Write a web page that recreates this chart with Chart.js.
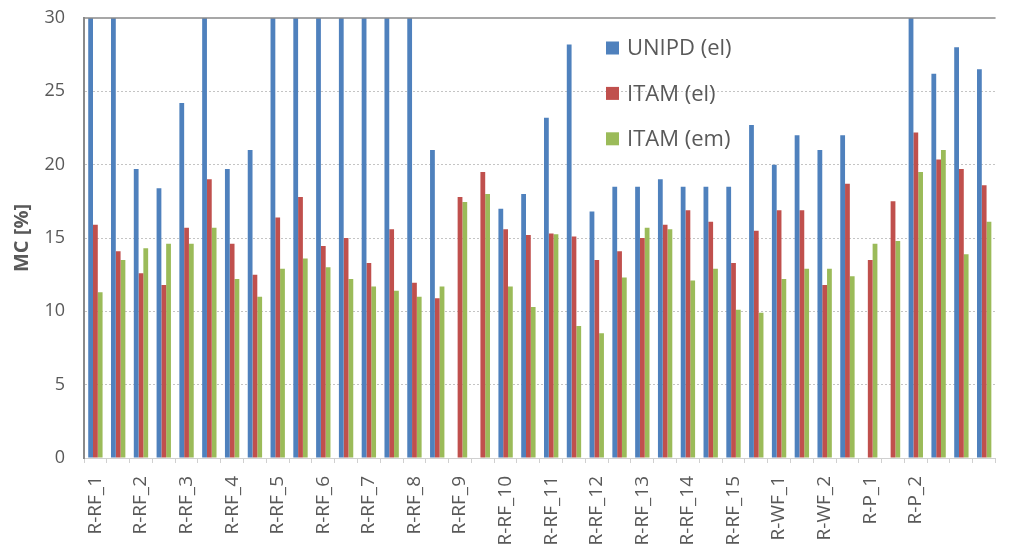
<!DOCTYPE html>
<html>
<head>
<meta charset="utf-8">
<script src="https://cdn.jsdelivr.net/npm/chart.js@4/dist/chart.umd.min.js"></script>
<style>
  html, body { margin: 0; padding: 0; overflow: hidden; background: #ffffff; }
  #wrap { width: 1020px; height: 550px; }
</style>
</head>
<body>
<div id="wrap"><canvas id="c" width="1020" height="550" style="width:1020px;height:550px"></canvas></div>
<script>
// Category labels (one label every second bar group, as in the original)
const categories = [
  "R-RF_1", "", "R-RF_2", "", "R-RF_3", "", "R-RF_4", "", "R-RF_5", "",
  "R-RF_6", "", "R-RF_7", "", "R-RF_8", "", "R-RF_9", "", "R-RF_10", "",
  "R-RF_11", "", "R-RF_12", "", "R-RF_13", "", "R-RF_14", "", "R-RF_15", "",
  "R-WF_1", "", "R-WF_2", "", "R-P_1", "", "R-P_2", "", "", ""
];

const seriesNames = ["UNIPD (el)", "ITAM (el)", "ITAM (em)"];

// MC [%] values; bars above 30 are cut off by the axis in the original (estimated)
const unipdEl = [
  35, 35, 19.7, 18.4, 24.2, 35, 19.7, 21.0, 35, 35,
  35, 35, 35, 35, 35, 21.0, null, null, 17.0, 18.0,
  23.2, 28.2, 16.8, 18.5, 18.5, 19.0, 18.5, 18.5, 18.5, 22.7,
  20.0, 22.0, 21.0, 22.0, null, null, 35, 26.2, 28.0, 26.5
];
const itamEl = [
  15.9, 14.1, 12.6, 11.8, 15.7, 19.0, 14.6, 12.5, 16.4, 17.8,
  14.45, 15.0, 13.3, 15.6, 11.95, 10.9, 17.8, 19.5, 15.6, 15.2,
  15.3, 15.1, 13.5, 14.1, 15.0, 15.9, 16.9, 16.1, 13.3, 15.5,
  16.9, 16.9, 11.8, 18.7, 13.5, 17.5, 22.2, 20.35, 19.7, 18.6
];
const itamEm = [
  11.3, 13.5, 14.3, 14.6, 14.6, 15.7, 12.2, 11.0, 12.9, 13.6,
  13.0, 12.2, 11.7, 11.4, 11.0, 11.7, 17.45, 18.0, 11.7, 10.3,
  15.25, 9.0, 8.5, 12.3, 15.7, 15.6, 12.1, 12.9, 10.1, 9.9,
  12.2, 12.9, 12.9, 12.4, 14.6, 14.8, 19.5, 21.0, 13.9, 16.1
];

const yTicks = [0, 5, 10, 15, 20, 25, 30];
const yTitle = "MC [%]";

const colors = ["#4f81bd", "#c0504d", "#9bbb59"];
const textColor = "#595959";
const fontFamily = '"Open Sans", "Liberation Sans", sans-serif';

const floatingLegend = {
  id: 'floatingLegend',
  afterDatasetsDraw(chart) {
    const ctx = chart.ctx;
    ctx.save();
    ctx.font = '22px ' + fontFamily;
    ctx.textBaseline = 'middle';
    ctx.textAlign = 'left';
    chart.data.datasets.forEach((ds, i) => {
      const y = 48 + i * 45.4;
      ctx.fillStyle = ds.backgroundColor;
      ctx.fillRect(606, y - 6.5, 13, 13);
      ctx.fillStyle = textColor;
      ctx.fillText(ds.label, 627, y + 1);
    });
    ctx.restore();
  }
};

const topBorder = {
  id: 'topBorder',
  afterDraw(chart) {
    const a = chart.chartArea;
    const ctx = chart.ctx;
    ctx.save();
    ctx.strokeStyle = '#8a8a8a';
    ctx.lineWidth = 1.5;
    ctx.beginPath();
    ctx.moveTo(a.left, a.top);
    ctx.lineTo(a.right, a.top);
    ctx.stroke();
    ctx.restore();
  }
};

new Chart(document.getElementById('c'), {
  type: 'bar',
  data: {
    labels: categories,
    datasets: [
      { label: seriesNames[0], data: unipdEl, backgroundColor: colors[0] },
      { label: seriesNames[1], data: itamEl, backgroundColor: colors[1] },
      { label: seriesNames[2], data: itamEm, backgroundColor: colors[2] }
    ]
  },
  options: {
    responsive: false,
    animation: false,
    datasets: { bar: { categoryPercentage: 0.63, barPercentage: 1.0, borderWidth: 0 } },
    layout: { padding: { top: 18, right: 2, bottom: 0, left: 0 } },
    plugins: {
      legend: { display: false },
      tooltip: { enabled: false }
    },
    scales: {
      x: {
        grid: {
          display: true,
          drawOnChartArea: false,
          drawTicks: true,
          tickLength: 5,
          tickColor: '#d0d0d0',
          color: '#d0d0d0',
          offset: true
        },
        border: { display: true, color: '#d0d0d0', width: 1 },
        ticks: {
          autoSkip: false,
          minRotation: 90,
          maxRotation: 90,
          padding: 13,
          color: textColor,
          font: { family: fontFamily, size: 19 }
        },
        afterFit(scale) { scale.height = 92; }
      },
      y: {
        min: yTicks[0],
        max: yTicks[yTicks.length - 1],
        afterBuildTicks(scale) { scale.ticks = yTicks.map(v => ({ value: v })); },
        grid: {
          drawTicks: true,
          tickLength: 19,
          tickColor: 'rgba(0,0,0,0)',
          color: (c) => (c.tick && (c.tick.value === 0 || c.tick.value === 30)) ? 'rgba(0,0,0,0)' : '#c4c4c4',
          lineWidth: 1
        },
        border: { display: true, color: '#8a8a8a', width: 2, dash: [2, 2] },
        ticks: {
          padding: 0,
          color: textColor,
          font: { family: fontFamily, size: 18 }
        },
        title: {
          display: true,
          text: yTitle,
          color: textColor,
          font: { family: fontFamily, size: 20, weight: 'bold' },
          padding: { top: 10, bottom: 0 }
        },
        afterFit(scale) { scale.width = 84; }
      }
    }
  },
  plugins: [floatingLegend, topBorder]
});
</script>
</body>
</html>
